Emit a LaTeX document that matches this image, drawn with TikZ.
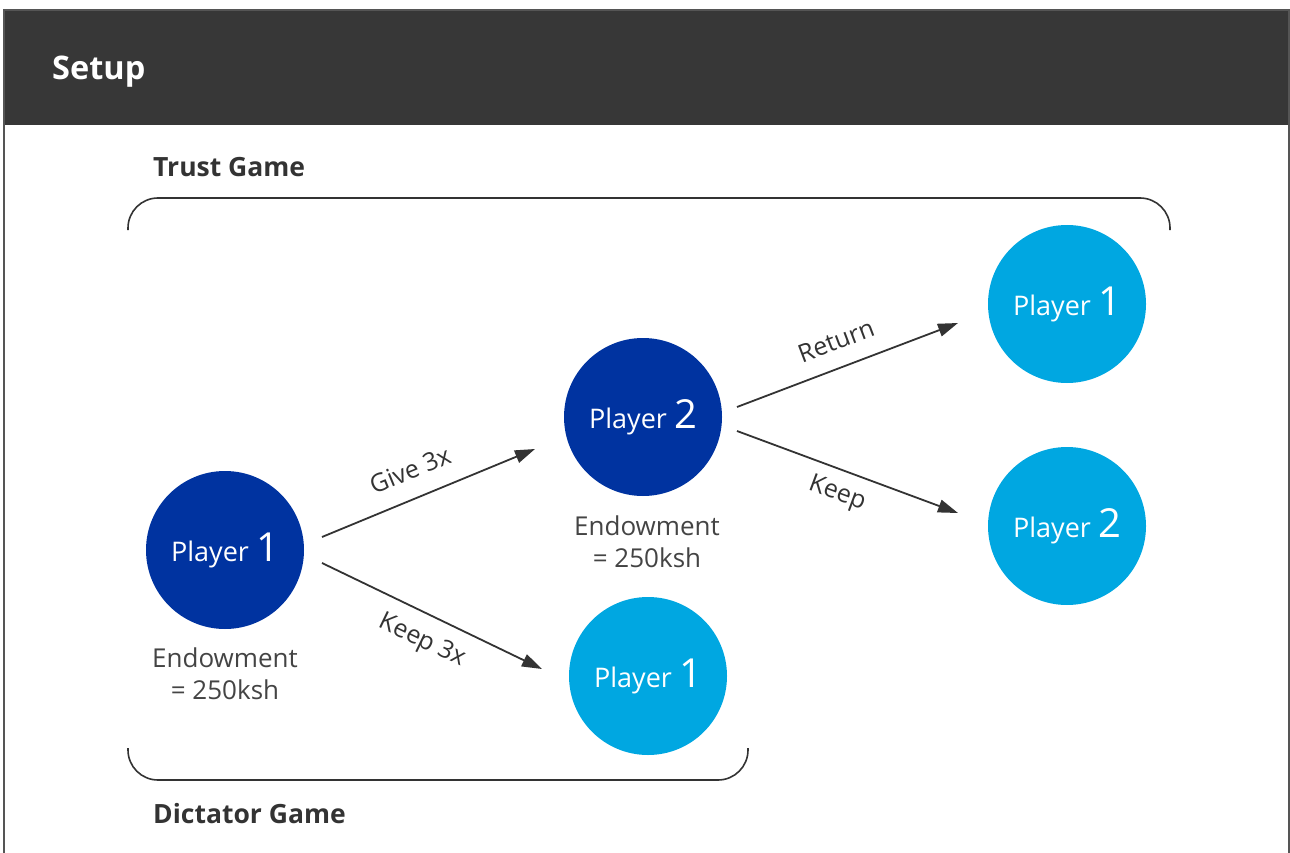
\documentclass[tikz,border=0pt]{standalone}
\usepackage{fontspec}
\setmainfont{Open Sans}
\usetikzlibrary{arrows.meta,calc}
\definecolor{hdr}{HTML}{373737}
\definecolor{frm}{HTML}{555555}
\definecolor{ink}{HTML}{333333}
\definecolor{txt}{HTML}{444444}
\definecolor{dblue}{HTML}{0033A0}
\definecolor{lblue}{HTML}{00A7E1}
\tikzset{
  player/.style={circle, minimum size=158pt, inner sep=0pt, text=white, font=\fontsize{27}{27}\selectfont},
  dkp/.style={player, fill=dblue},
  ltp/.style={player, fill=lblue},
  conn/.style={draw=ink, line width=1.8pt, -{Triangle[length=20pt,width=13pt]}},
  lbl/.style={text=ink, font=\fontsize{25}{25}\selectfont, inner sep=0pt},
  endw/.style={text=txt, font=\fontsize{26}{32}\selectfont, align=center, inner sep=0pt},
  heading/.style={text=ink, font=\bfseries\fontsize{26.5}{26.5}\selectfont, anchor=base west, inner sep=0pt},
  brace/.style={draw=ink, line width=1.6pt, rounded corners=30pt}
}
\newcommand{\bignum}[1]{{\fontsize{40}{40}\selectfont #1}}
\begin{document}
\begin{tikzpicture}[x=1pt,y=-1pt]
\useasboundingbox (0,0) rectangle (1290,853);
% frame
\fill[hdr] (4,10) rectangle (1290,125);
\draw[frm, line width=1.5pt] (4,853) -- (4,10) -- (1289,10) -- (1289,853);
\node[text=white, font=\bfseries\fontsize{32.5}{32.5}\selectfont, anchor=base west, inner sep=0pt] (setup) at (52,80) {Setup};
% headings and brackets
\node[heading] (tg) at (153,177) {Trust Game};
\node[heading] (dg) at (153,823) {Dictator Game};
\draw[brace] (128,230) -- (128,198) -- (1170,198) -- (1170,230);
\draw[brace] (128,748) -- (128,780) -- (748,780) -- (748,748);
% players
\node[dkp] (p1) at (225,550) {Player \bignum{1}};
\node[dkp] (p2) at (643,417) {Player \bignum{2}};
\node[ltp] (d1) at (648,676) {Player \bignum{1}};
\node[ltp] (r1) at (1067,304) {Player \bignum{1}};
\node[ltp] (r2) at (1067,526) {Player \bignum{2}};
% endowments
\node[endw] (e1) at (225,674) {Endowment\\= 250ksh};
\node[endw] (e2) at (647,542) {Endowment\\= 250ksh};
% connector end points
\coordinate (a1s) at ($(p1.center)+(97,-13)$);
\coordinate (a1e) at ($(p2.center)+(-108,32)$);
\coordinate (a2s) at ($(p1.center)+(97,13)$);
\coordinate (a2e) at ($(d1.center)+(-106,-7)$);
\coordinate (a3s) at ($(p2.center)+(94,-10)$);
\coordinate (a3e) at ($(r1.center)+(-109,19)$);
\coordinate (a4s) at ($(p2.center)+(94,14)$);
\coordinate (a4e) at ($(r2.center)+(-109,-13)$);
\draw[conn] (a1s) -- (a1e);
\draw[conn] (a2s) -- (a2e);
\draw[conn] (a3s) -- (a3e);
\draw[conn] (a4s) -- (a4e);
% labels
\node[lbl, rotate=22.4] (l1) at (410,470) {Give 3x};
\node[lbl, rotate=-25.7] (l2) at (422,641) {Keep 3x};
\node[lbl, rotate=20.8] (l3) at (836,341) {Return};
\node[lbl, rotate=-20.4] (l4) at (837,494) {Keep};
\end{tikzpicture}
\end{document}
